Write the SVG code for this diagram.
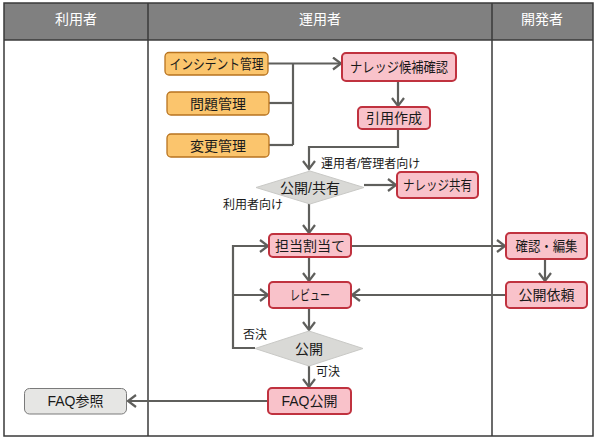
<svg xmlns="http://www.w3.org/2000/svg" width="597" height="440" viewBox="0 0 597 440">
<style>
text{font-family:"Liberation Sans","Noto Sans CJK JP",sans-serif;fill:#1a1a1a}
.hd{font-size:14px;fill:#ffffff;text-anchor:middle}
.bt{font-size:14px;text-anchor:middle}
.lb{font-size:12px}
.or{fill:#FBC56D;stroke:#B8731F;stroke-width:1.3}
.rd{fill:#F9C2CA;stroke:#C0323F;stroke-width:2}
.dm{fill:#D9D9D6;stroke:#C9C9C6;stroke-width:1}
.gy{fill:#E6E6E4;stroke:#7A7A7A;stroke-width:1}
.cn{fill:none;stroke:#5F5F5C;stroke-width:2.2}
.ar{marker-end:url(#arr)}
.grid{fill:none;stroke:#3A3A3A;stroke-width:1.5}
</style>
<defs>
<marker id="arr" markerUnits="userSpaceOnUse" markerWidth="12" markerHeight="14" refX="10" refY="7" orient="auto">
<path d="M2,1 L10,7 L2,13" fill="none" stroke="#5F5F5C" stroke-width="2.2"/>
</marker>
</defs>
<rect x="0" y="0" width="597" height="440" fill="#ffffff"/>
<g id="lanes">
<rect x="4" y="3" width="589" height="37" fill="#808080"/>
<rect class="grid" x="4" y="3" width="589" height="433"/>
<line class="grid" x1="4" y1="40" x2="593" y2="40"/>
<line class="grid" x1="148" y1="3" x2="148" y2="436"/>
<line class="grid" x1="492" y1="3" x2="492" y2="436"/>
<text class="hd" x="76" y="24">利用者</text>
<text class="hd" x="320" y="24">運用者</text>
<text class="hd" x="542" y="24">開発者</text>
</g>
<g id="connectors">
<path class="cn ar" d="M268,63.5 H341"/>
<path class="cn" d="M269,103 H293"/>
<path class="cn" d="M269,145 H293"/>
<path class="cn" d="M293,63.5 V145"/>
<path class="cn ar" d="M398,81 V106"/>
<path class="cn ar" d="M398,129 V147 H309 V169"/>
<path class="cn ar" d="M364,185 H396"/>
<path class="cn ar" d="M309,204 V233"/>
<path class="cn ar" d="M351,246 H505"/>
<path class="cn ar" d="M309,257 V281"/>
<path class="cn ar" d="M545,259 V281"/>
<path class="cn ar" d="M506,295 H352"/>
<path class="cn ar" d="M309,308 V330"/>
<path class="cn ar" d="M255,348 H233 V246 H268"/>
<path class="cn ar" d="M233,295 H268"/>
<path class="cn ar" d="M309,366 V387"/>
<path class="cn ar" d="M268,401 H128"/>
<text class="lb" x="321" y="168">運用者/管理者向け</text>
<text class="lb" x="223" y="209">利用者向け</text>
<text class="lb" x="243" y="339">否決</text>
<text class="lb" x="316" y="376">可決</text>
</g>
<g id="incident">
<rect class="or" x="165" y="52.5" width="103" height="22.5" rx="4"/>
<text class="bt" x="216.5" y="68.5" textLength="94" lengthAdjust="spacingAndGlyphs">インシデント管理</text>
</g>
<g id="problem">
<rect class="or" x="167" y="92" width="102" height="23" rx="4"/>
<text class="bt" x="218" y="108.5">問題管理</text>
</g>
<g id="change">
<rect class="or" x="167" y="134" width="102" height="23" rx="4"/>
<text class="bt" x="218" y="150.5">変更管理</text>
</g>
<g id="candidate">
<rect class="rd" x="342" y="53" width="114" height="28" rx="4"/>
<text class="bt" x="399" y="72" textLength="98" lengthAdjust="spacingAndGlyphs">ナレッジ候補確認</text>
</g>
<g id="quote">
<rect class="rd" x="358" y="107" width="72" height="22" rx="4"/>
<text class="bt" x="394" y="123">引用作成</text>
</g>
<g id="decision-share">
<polygon class="dm" points="310,171 364,187.5 310,204 256,187.5"/>
<text class="bt" x="310" y="192.5">公開/共有</text>
</g>
<g id="knowledge-share">
<rect class="rd" x="397" y="172" width="81" height="26" rx="4"/>
<text class="bt" x="437.5" y="190" textLength="69" lengthAdjust="spacingAndGlyphs">ナレッジ共有</text>
</g>
<g id="assign">
<rect class="rd" x="269" y="234" width="82" height="23" rx="4"/>
<text class="bt" x="310" y="250.5">担当割当て</text>
</g>
<g id="edit">
<rect class="rd" x="506" y="233" width="81" height="26" rx="4"/>
<text class="bt" x="546.5" y="251" textLength="62" lengthAdjust="spacingAndGlyphs">確認・編集</text>
</g>
<g id="request">
<rect class="rd" x="506" y="282" width="81" height="26" rx="4"/>
<text class="bt" x="546.5" y="300">公開依頼</text>
</g>
<g id="review">
<rect class="rd" x="269" y="282" width="82" height="26" rx="4"/>
<text class="bt" x="310" y="300" textLength="40" lengthAdjust="spacingAndGlyphs">レビュー</text>
</g>
<g id="decision-publish">
<polygon class="dm" points="309,331 363,348.5 309,366 255,348.5"/>
<text class="bt" x="309" y="353.5">公開</text>
</g>
<g id="faq-publish">
<rect class="rd" x="268" y="388" width="83" height="26" rx="4"/>
<text class="bt" x="309.5" y="406">FAQ公開</text>
</g>
<g id="faq-view">
<rect class="gy" x="24.5" y="388.5" width="102" height="25.5" rx="5"/>
<text class="bt" x="75.5" y="406">FAQ参照</text>
</g>
</svg>
